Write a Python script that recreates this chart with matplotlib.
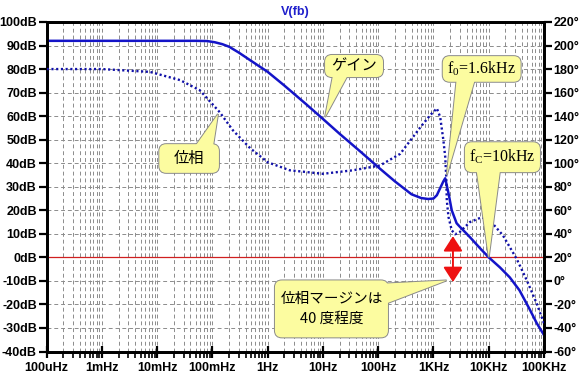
import matplotlib
matplotlib.use('Agg')
import matplotlib.pyplot as plt
from matplotlib.patches import FancyBboxPatch, Polygon
from matplotlib.transforms import IdentityTransform
from matplotlib.ticker import LogLocator, NullFormatter

plt.rcParams['font.family'] = ['Liberation Sans', 'Noto Sans CJK JP']
plt.rcParams['mathtext.fontset'] = 'custom'
plt.rcParams['mathtext.rm'] = 'Liberation Serif'

# gain (solid) in dB
gain_freq = [1e-4, 1e-3, 1e-2, 0.05, 0.08, 0.11, 0.15, 0.2, 0.3, 0.5, 1, 2, 5, 10, 20,
             50, 100, 200, 400, 600, 800, 1000, 1150, 1320, 1510, 1630, 1870, 2140,
             2620, 3000, 4600, 7000, 10000, 16000, 24000, 36000, 54000, 74000, 100000]
gain_db = [92, 92, 92, 92, 91.9, 91.4, 90.6, 89.5, 87, 83.5, 78.8, 73, 65, 58.8, 52.5,
           44.5, 38.3, 32.3, 26.8, 25.2, 24.8, 25, 26.4, 29.4, 32.3, 33.6, 27.2, 20,
           14.5, 13, 8.5, 3.8, 0, -4.3, -8.5, -14, -21.7, -28, -33]

# phase (dotted) in degrees
phase_freq = [1e-4, 1e-3, 7.4e-3, 0.026, 0.059, 0.135, 0.234, 0.48, 1, 2.5, 10, 35,
              107, 250, 580, 870, 1150, 1320, 1510, 1630, 1700, 1740, 1870, 2140,
              2460, 3000, 4570, 7400, 10500, 18000, 32000, 49000, 74000, 100000]
phase_deg = [180, 180, 177.6, 170.6, 162, 143.4, 128, 112.8, 100.8, 94, 91, 94,
             98, 108, 130.6, 140.8, 146.6, 139.4, 119.6, 105.4, 88.4, 68.6, 54.2, 43,
             39.6, 41.6, 50, 54, 51.4, 38.8, 18.7, 0.4, -19.4, -36]

x_ticks = [1e-4, 1e-3, 1e-2, 1e-1, 1, 10, 100, 1e3, 1e4, 1e5]
x_labels = ['100uHz', '1mHz', '10mHz', '100mHz', '1Hz', '10Hz', '100Hz', '1KHz', '10KHz', '100KHz']
db_ticks = list(range(-40, 101, 10))
deg_ticks = list(range(-60, 221, 20))

fig = plt.figure(figsize=(5.85, 3.79), dpi=100)
ax = fig.add_axes([46.7 / 585, 1 - 351.5 / 379, (544 - 46.7) / 585, (351.5 - 22) / 379])
ax.set_xscale('log')
ax.set_xlim(1e-4, 1e5)
ax.set_ylim(-40, 100)

ax.set_xticks(x_ticks, labels=x_labels)
ax.xaxis.set_minor_locator(LogLocator(base=10, subs=range(2, 10), numticks=40))
ax.xaxis.set_minor_formatter(NullFormatter())
ax.set_yticks(db_ticks, labels=[f'{v}dB' for v in db_ticks])

ax.grid(True, which='major', axis='both', color='#8c8c8c', linestyle=(0, (4, 3)), lw=0.7)
ax.grid(True, which='minor', axis='x', color='#8c8c8c', linestyle=(0, (4, 3)), lw=0.7)
ax.axhline(0, color='#d02020', lw=0.9, zorder=3)

ax.plot(gain_freq, gain_db, color='#1414c8', lw=1.8, zorder=4)

ax2 = ax.twinx()
ax2.set_ylim(-60, 220)
ax2.set_yticks(deg_ticks, labels=[f'{v}°' for v in deg_ticks])
ax2.plot(phase_freq, phase_deg, color='#1010a8', lw=1.7, linestyle=(0, (0.9, 1.1)), zorder=4)

# phase margin arrow
ax2.annotate('', xy=(2250, -1), xytext=(2250, 38),
             arrowprops=dict(arrowstyle='<|-|>,head_length=0.7,head_width=0.45',
                             color='#ee1111', lw=1.4, mutation_scale=13,
                             shrinkA=0, shrinkB=0))

for a in (ax, ax2):
    for s in a.spines.values():
        s.set_linewidth(2.0)
ax.tick_params(axis='y', direction='out', length=6, width=1.6, labelsize=9, pad=1)
ax.tick_params(axis='x', which='major', direction='inout', length=9, width=1.6, labelsize=9, pad=3)
ax.tick_params(axis='x', which='minor', direction='out', length=4, width=1.2)
ax2.tick_params(axis='y', direction='out', length=6, width=1.6, labelsize=9, pad=1)
for lab in ax.get_xticklabels() + ax.get_yticklabels() + ax2.get_yticklabels():
    lab.set_fontweight('bold')

fig.text(295 / 585, 1 - 12 / 379, 'V(fb)', color='#1f1fcc', fontweight='bold',
         fontsize=9, ha='center', va='center')

fill = '#fcfca0'
px = IdentityTransform()


def balloon(box, tail, text, **kw):
    to_px = ax.transData.transform
    x0, y0 = to_px((box[0], box[2]))
    x1, y1 = to_px((box[1], box[3]))
    tail_px = to_px(tail)
    for lw, ec, z in ((1.4, '#8a8a8a', 5), (0, 'none', 6)):
        fig.add_artist(FancyBboxPatch((x0, y0), x1 - x0, y1 - y0,
                                      boxstyle='round,pad=0,rounding_size=7',
                                      fc=fill, ec=ec, lw=lw, transform=px, zorder=z))
        fig.add_artist(Polygon(tail_px, closed=True, fc=fill, ec=ec, lw=lw,
                               transform=px, zorder=z))
    fig.text((x0 + x1) / 2, (y0 + y1) / 2, text, transform=px, ha='center',
             va='center', zorder=7, **kw)


cjk = dict(family=['Noto Sans CJK JP', 'DejaVu Sans'], fontsize=11)
serif = dict(family='Liberation Serif', fontsize=11.5)

balloon((10.9, 122, 76.6, 86), [(15.2, 77.5), (28.3, 77.5), (10.9, 59.6)], 'ゲイン', **cjk)
balloon((1470, 37800, 74.6, 85.5), [(2620, 75.5), (5600, 75.5), (1740, 34.9)],
        r'$\mathrm{f_{0}}$=1.6kHz', **serif)
balloon((0.0109, 0.131, 35.9, 48.1), [(0.048, 47), (0.102, 47), (0.126, 60.9)], '位相', **cjk)
balloon((3700, 84500, 36.2, 48.9), [(6040, 37), (16000, 37), (10000, 0)],
        r'$\mathrm{f_{C}}$=10kHz', **serif)
balloon((1.35, 150, -34, -9.8), [(140, -11.1), (140, -19.6), (1730, -9.8)],
        '位相マージンは\n40 度程度', linespacing=1.5,
        family=['Noto Sans CJK JP', 'DejaVu Sans'], fontsize=10.5)

fig.savefig('out.png', dpi=100)
